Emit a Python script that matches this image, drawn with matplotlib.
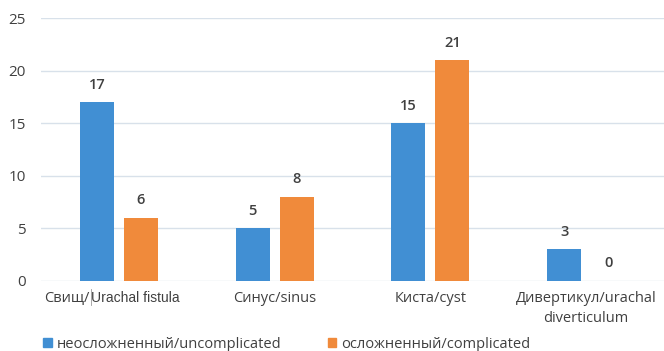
import matplotlib
matplotlib.use("Agg")
import matplotlib.pyplot as plt
import numpy as np
from matplotlib.patches import Patch

categories = ["Свищ/Urachal fistula", "Синус/sinus", "Киста/cyst", "Дивертикул/urachal\ndiverticulum"]
uncomplicated = [17, 5, 15, 3]
complicated = [6, 8, 21, 0]
series_names = ["неосложненный/uncomplicated", "осложненный/complicated"]
yticks = [0, 5, 10, 15, 20, 25]

BLUE = "#418fd3"
ORANGE = "#f08a3b"
TEXT = "#404040"
GRID = "#d8e1ea"
FONT = "Open Sans"

plt.rcParams["font.family"] = [FONT, "DejaVu Sans"]

fig = plt.figure(figsize=(6.64, 3.51), dpi=100)
ax = fig.add_axes([41 / 664, 70 / 351, 623 / 664, 263 / 351])

x = np.arange(len(categories))
w = 0.219
off = 0.141
b1 = ax.bar(x - off, uncomplicated, w, color=BLUE, zorder=3)
b2 = ax.bar(x + off, complicated, w, color=ORANGE, zorder=3)

for bars, vals in ((b1, uncomplicated), (b2, complicated)):
    for rect, v in zip(bars, vals):
        ax.text(rect.get_x() + rect.get_width() / 2, v + 1.0, str(v),
                ha="center", va="bottom", fontsize=10.5, color=TEXT,
                fontweight="semibold")

ax.set_xlim(-0.5, len(categories) - 0.5)
ax.set_ylim(0, 25)
ax.set_yticks(yticks)
ax.set_yticklabels([str(t) for t in yticks], fontsize=11, color=TEXT)
ax.yaxis.grid(True, color=GRID, linewidth=1.0, zorder=0)
ax.set_axisbelow(True)
ax.tick_params(axis="y", length=0, pad=11)
ax.tick_params(axis="x", length=0, pad=7)
for s in ax.spines.values():
    s.set_visible(False)

# category labels; the first one mixes two typefaces
first_ru, first_en = categories[0].split("/", 1)
ax.set_xticks(x, [""] + categories[1:], fontsize=10.5, color=TEXT, linespacing=1.45)
trans = ax.get_xaxis_transform()
ax.text(-0.186, -0.066, first_ru + "/", transform=trans, ha="right", va="center",
        fontsize=10.5, color=TEXT)
ax.text(-0.176, -0.066, first_en, transform=trans, ha="left", va="center",
        fontsize=10, color=TEXT, family="Liberation Sans")
ax.plot([-0.181, -0.181], [-0.032, -0.092], transform=trans, color="#9a9a9a",
        linewidth=0.6, clip_on=False)

handles = [Patch(color=BLUE), Patch(color=ORANGE)]
fig.legend(handles, series_names, loc="lower left", bbox_to_anchor=(30 / 664, -0.04),
           ncol=2, frameon=False, fontsize=10.5, handlelength=0.6, handleheight=0.6,
           handletextpad=0.3, columnspacing=3.2, labelcolor=TEXT)

fig.savefig("out.png", dpi=100)
